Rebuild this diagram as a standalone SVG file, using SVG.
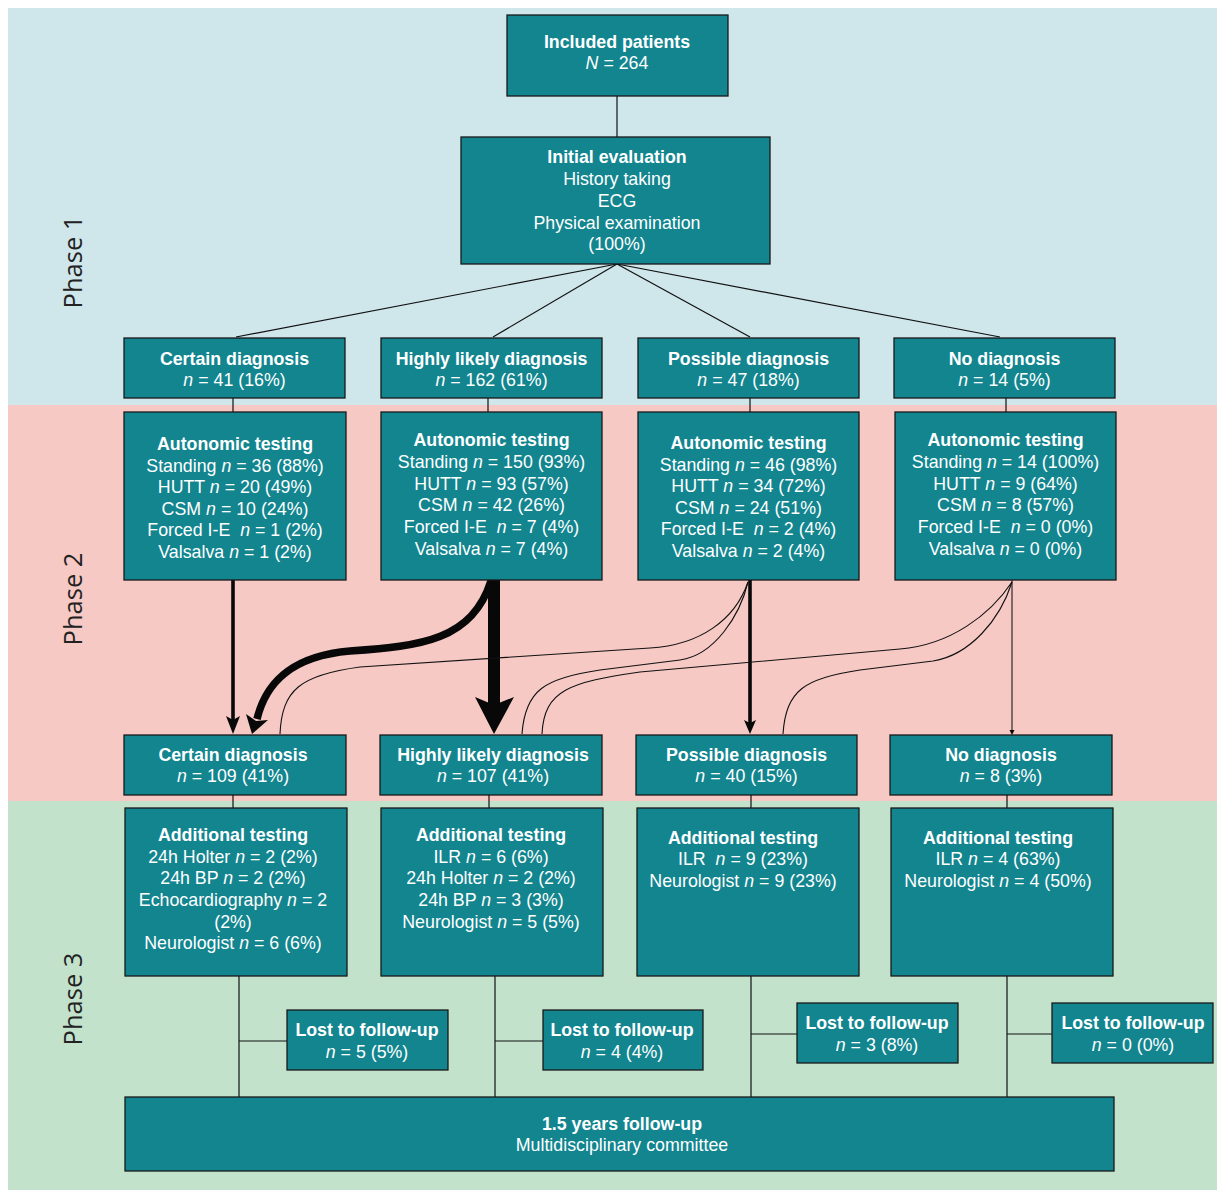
<svg xmlns="http://www.w3.org/2000/svg" width="1217" height="1191" viewBox="0 0 1217 1191">
<style>
.box{fill:#12858F;stroke:#1a1a1a;stroke-width:1.3}
.t{font-family:"Liberation Sans",Arial,sans-serif;font-size:17.8px;fill:#ffffff;text-anchor:middle}
.b{font-weight:bold}
.i{font-style:italic}
.ph{font-family:"Open Sans","DejaVu Sans",sans-serif;font-size:25.5px;fill:#222222;text-anchor:middle}
.c{fill:none;stroke:#111111;stroke-width:1.2}
.thin{fill:none;stroke:#111111;stroke-width:1.1}
.ah{fill:#080808;stroke:none}
</style>
<rect x="8" y="8" width="1209" height="397" fill="#CFE6EA"/>
<rect x="8" y="405" width="1209" height="396" fill="#F6C9C5"/>
<rect x="8" y="801" width="1209" height="389" fill="#C2E2CC"/>
<text class="ph" transform="translate(82,262) rotate(-90)">Phase 1</text>
<text class="ph" transform="translate(82,599) rotate(-90)">Phase 2</text>
<text class="ph" transform="translate(82,999) rotate(-90)">Phase 3</text>

<g id="connectors">
<line class="c" x1="617" y1="96" x2="617" y2="137"/>
<line class="c" x1="617" y1="264" x2="236" y2="337" stroke-width="1.6"/>
<line class="c" x1="617" y1="264" x2="493" y2="337"/>
<line class="c" x1="617" y1="264" x2="750" y2="337"/>
<line class="c" x1="617" y1="264" x2="1000" y2="337"/>
<line class="c" x1="233" y1="398" x2="233" y2="412"/>
<line class="c" x1="488" y1="398" x2="488" y2="412"/>
<line class="c" x1="750" y1="398" x2="750" y2="412"/>
<line class="c" x1="1006" y1="398" x2="1006" y2="412"/>
<line class="c" x1="233" y1="795" x2="233" y2="808"/>
<line class="c" x1="489" y1="795" x2="489" y2="808"/>
<line class="c" x1="751" y1="795" x2="751" y2="808"/>
<line class="c" x1="1007" y1="795" x2="1007" y2="808"/>
<line class="c" x1="239" y1="976" x2="239" y2="1097"/>
<line class="c" x1="495" y1="976" x2="495" y2="1097"/>
<line class="c" x1="751" y1="976" x2="751" y2="1097"/>
<line class="c" x1="1007" y1="976" x2="1007" y2="1097"/>
<line class="c" x1="239" y1="1041" x2="287" y2="1041"/>
<line class="c" x1="495" y1="1041" x2="543" y2="1041"/>
<line class="c" x1="751" y1="1034" x2="797" y2="1034"/>
<line class="c" x1="1007" y1="1034" x2="1052" y2="1034"/>
<line x1="233" y1="580" x2="233" y2="720" stroke="#080808" stroke-width="3.6"/>
<path class="ah" d="M226,716 L233,734 L240,716 L233,720 Z"/>
<rect x="488" y="580" width="12" height="126" fill="#080808"/>
<path class="ah" d="M475,697 L494,734 L514,697 L494,705 Z"/>
<path d="M491,581 C472,640 422,646 350,651 C292,656 266,682 257,719" fill="none" stroke="#080808" stroke-width="7.5"/>
<path class="ah" d="M246,714 L252,734 L268,720 L256,721 Z"/>
<line x1="750" y1="580" x2="750" y2="723" stroke="#080808" stroke-width="3.6"/>
<path class="ah" d="M744,720 L750,734 L756,720 L750,723 Z"/>
<line x1="1012" y1="580" x2="1012" y2="732" stroke="#080808" stroke-width="1"/>
<path class="ah" d="M1009.5,730 L1012,735 L1014.5,730 Z"/>
<path class="thin" d="M280,734 C282,690 300,675 360,667 L650,648 C700,645 735,620 748,582"/>
<path class="thin" d="M522,734 C525,690 545,678 600,670 L680,660 C715,655 740,615 748,582"/>
<path class="thin" d="M542,734 C544,690 570,682 640,672 L900,649 C950,645 990,615 1012,582"/>
<path class="thin" d="M783,734 C786,690 805,678 860,670 L933,661 C970,655 1000,620 1012,582"/>
</g>

<g id="included">
<rect class="box" x="507" y="15" width="221" height="81"/>
<text class="t b" x="617" y="48">Included patients</text>
<text class="t" x="617" y="69"><tspan class="i">N</tspan> = 264</text>
</g>
<g id="initial">
<rect class="box" x="461" y="137" width="309" height="127"/>
<text class="t b" x="617" y="163">Initial evaluation</text>
<text class="t" x="617" y="185">History taking</text>
<text class="t" x="617" y="207">ECG</text>
<text class="t" x="617" y="229">Physical examination</text>
<text class="t" x="617" y="250">(100%)</text>
</g>

<g id="p1-certain">
<rect class="box" x="124" y="338" width="221" height="60"/>
<text class="t b" x="234.5" y="365">Certain diagnosis</text>
<text class="t" x="234.5" y="386"><tspan class="i">n</tspan> = 41 (16%)</text>
</g>
<g id="p1-highly">
<rect class="box" x="381" y="338" width="221" height="60"/>
<text class="t b" x="491.5" y="365">Highly likely diagnosis</text>
<text class="t" x="491.5" y="386"><tspan class="i">n</tspan> = 162 (61%)</text>
</g>
<g id="p1-possible">
<rect class="box" x="638" y="338" width="221" height="60"/>
<text class="t b" x="748.5" y="365">Possible diagnosis</text>
<text class="t" x="748.5" y="386"><tspan class="i">n</tspan> = 47 (18%)</text>
</g>
<g id="p1-no">
<rect class="box" x="894" y="338" width="221" height="60"/>
<text class="t b" x="1004.5" y="365">No diagnosis</text>
<text class="t" x="1004.5" y="386"><tspan class="i">n</tspan> = 14 (5%)</text>
</g>

<g id="auto-certain">
<rect class="box" x="124" y="412" width="222" height="168"/>
<text class="t b" x="235" y="450">Autonomic testing</text>
<text class="t" x="235" y="472">Standing <tspan class="i">n</tspan> = 36 (88%)</text>
<text class="t" x="235" y="493">HUTT <tspan class="i">n</tspan> = 20 (49%)</text>
<text class="t" x="235" y="515">CSM <tspan class="i">n</tspan> = 10 (24%)</text>
<text class="t" x="235" y="536">Forced I-E&#160; <tspan class="i">n</tspan> = 1 (2%)</text>
<text class="t" x="235" y="558">Valsalva <tspan class="i">n</tspan> = 1 (2%)</text>
</g>
<g id="auto-highly">
<rect class="box" x="381" y="412" width="221" height="168"/>
<text class="t b" x="491.5" y="446">Autonomic testing</text>
<text class="t" x="491.5" y="468">Standing <tspan class="i">n</tspan> = 150 (93%)</text>
<text class="t" x="491.5" y="490">HUTT <tspan class="i">n</tspan> = 93 (57%)</text>
<text class="t" x="491.5" y="511">CSM <tspan class="i">n</tspan> = 42 (26%)</text>
<text class="t" x="491.5" y="533">Forced I-E&#160; <tspan class="i">n</tspan> = 7 (4%)</text>
<text class="t" x="491.5" y="555">Valsalva <tspan class="i">n</tspan> = 7 (4%)</text>
</g>
<g id="auto-possible">
<rect class="box" x="638" y="412" width="221" height="168"/>
<text class="t b" x="748.5" y="449">Autonomic testing</text>
<text class="t" x="748.5" y="471">Standing <tspan class="i">n</tspan> = 46 (98%)</text>
<text class="t" x="748.5" y="492">HUTT <tspan class="i">n</tspan> = 34 (72%)</text>
<text class="t" x="748.5" y="514">CSM <tspan class="i">n</tspan> = 24 (51%)</text>
<text class="t" x="748.5" y="535">Forced I-E&#160; <tspan class="i">n</tspan> = 2 (4%)</text>
<text class="t" x="748.5" y="557">Valsalva <tspan class="i">n</tspan> = 2 (4%)</text>
</g>
<g id="auto-no">
<rect class="box" x="895" y="412" width="221" height="168"/>
<text class="t b" x="1005.5" y="446">Autonomic testing</text>
<text class="t" x="1005.5" y="468">Standing <tspan class="i">n</tspan> = 14 (100%)</text>
<text class="t" x="1005.5" y="490">HUTT <tspan class="i">n</tspan> = 9 (64%)</text>
<text class="t" x="1005.5" y="511">CSM <tspan class="i">n</tspan> = 8 (57%)</text>
<text class="t" x="1005.5" y="533">Forced I-E&#160; <tspan class="i">n</tspan> = 0 (0%)</text>
<text class="t" x="1005.5" y="555">Valsalva <tspan class="i">n</tspan> = 0 (0%)</text>
</g>

<g id="p2-certain">
<rect class="box" x="124" y="735" width="222" height="60"/>
<text class="t b" x="233" y="761">Certain diagnosis</text>
<text class="t" x="233" y="782"><tspan class="i">n</tspan> = 109 (41%)</text>
</g>
<g id="p2-highly">
<rect class="box" x="380" y="735" width="222" height="60"/>
<text class="t b" x="493" y="761">Highly likely diagnosis</text>
<text class="t" x="493" y="782"><tspan class="i">n</tspan> = 107 (41%)</text>
</g>
<g id="p2-possible">
<rect class="box" x="636" y="735" width="221" height="60"/>
<text class="t b" x="746.5" y="761">Possible diagnosis</text>
<text class="t" x="746.5" y="782"><tspan class="i">n</tspan> = 40 (15%)</text>
</g>
<g id="p2-no">
<rect class="box" x="890" y="735" width="222" height="60"/>
<text class="t b" x="1001" y="761">No diagnosis</text>
<text class="t" x="1001" y="782"><tspan class="i">n</tspan> = 8 (3%)</text>
</g>

<g id="add-certain">
<rect class="box" x="125" y="808" width="222" height="168"/>
<text class="t b" x="233" y="841">Additional testing</text>
<text class="t" x="233" y="863">24h Holter <tspan class="i">n</tspan> = 2 (2%)</text>
<text class="t" x="233" y="884">24h BP <tspan class="i">n</tspan> = 2 (2%)</text>
<text class="t" x="233" y="906">Echocardiography <tspan class="i">n</tspan> = 2</text>
<text class="t" x="233" y="928">(2%)</text>
<text class="t" x="233" y="949">Neurologist <tspan class="i">n</tspan> = 6 (6%)</text>
</g>
<g id="add-highly">
<rect class="box" x="381" y="808" width="222" height="168"/>
<text class="t b" x="491" y="841">Additional testing</text>
<text class="t" x="491" y="863">ILR <tspan class="i">n</tspan> = 6 (6%)</text>
<text class="t" x="491" y="884">24h Holter <tspan class="i">n</tspan> = 2 (2%)</text>
<text class="t" x="491" y="906">24h BP <tspan class="i">n</tspan> = 3 (3%)</text>
<text class="t" x="491" y="928">Neurologist <tspan class="i">n</tspan> = 5 (5%)</text>
</g>
<g id="add-possible">
<rect class="box" x="637" y="808" width="222" height="168"/>
<text class="t b" x="743" y="844">Additional testing</text>
<text class="t" x="743" y="865">ILR&#160; <tspan class="i">n</tspan> = 9 (23%)</text>
<text class="t" x="743" y="887">Neurologist <tspan class="i">n</tspan> = 9 (23%)</text>
</g>
<g id="add-no">
<rect class="box" x="891" y="808" width="222" height="168"/>
<text class="t b" x="998" y="844">Additional testing</text>
<text class="t" x="998" y="865">ILR <tspan class="i">n</tspan> = 4 (63%)</text>
<text class="t" x="998" y="887">Neurologist <tspan class="i">n</tspan> = 4 (50%)</text>
</g>

<g id="lost-1">
<rect class="box" x="287" y="1010" width="161" height="60"/>
<text class="t b" x="367" y="1036">Lost to follow-up</text>
<text class="t" x="367" y="1058"><tspan class="i">n</tspan> = 5 (5%)</text>
</g>
<g id="lost-2">
<rect class="box" x="543" y="1010" width="160" height="60"/>
<text class="t b" x="622" y="1036">Lost to follow-up</text>
<text class="t" x="622" y="1058"><tspan class="i">n</tspan> = 4 (4%)</text>
</g>
<g id="lost-3">
<rect class="box" x="797" y="1003" width="161" height="60"/>
<text class="t b" x="877" y="1029">Lost to follow-up</text>
<text class="t" x="877" y="1051"><tspan class="i">n</tspan> = 3 (8%)</text>
</g>
<g id="lost-4">
<rect class="box" x="1052" y="1003" width="161" height="60"/>
<text class="t b" x="1133" y="1029">Lost to follow-up</text>
<text class="t" x="1133" y="1051"><tspan class="i">n</tspan> = 0 (0%)</text>
</g>

<g id="followup">
<rect class="box" x="125" y="1097" width="989" height="74"/>
<text class="t b" x="622" y="1130">1.5 years follow-up</text>
<text class="t" x="622" y="1151">Multidisciplinary committee</text>
</g>
</svg>
